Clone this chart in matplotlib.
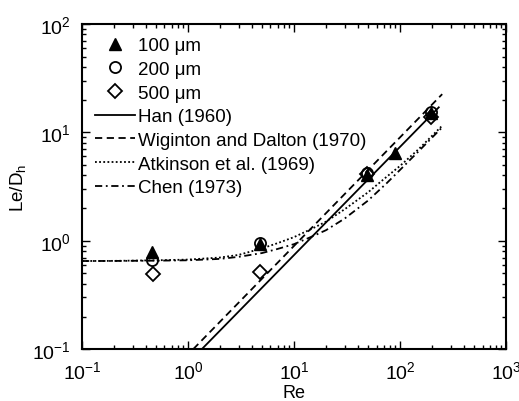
import numpy as np
import matplotlib
matplotlib.use('Agg')
import matplotlib.pyplot as plt

plt.rcParams['font.family'] = ['Liberation Sans', 'DejaVu Sans']
plt.rcParams['mathtext.fontset'] = 'custom'
plt.rcParams['mathtext.rm'] = 'Liberation Sans'
plt.rcParams['mathtext.it'] = 'Liberation Sans:italic'

# 实验点 (Re, Le/Dh)
re_100 = [0.46, 4.8, 48.5, 89, 198]
le_100 = [0.78, 0.93, 4.0, 6.4, 15.0]
re_200 = [0.46, 4.8, 48.5, 198]
le_200 = [0.67, 0.95, 4.2, 15.5]
re_500 = [0.47, 4.8, 48.5, 198]
le_500 = [0.49, 0.52, 4.1, 13.9]

# 关联式曲线
re_han = [1.35, 232]
le_han = [0.1, 17.0]
re_wd = [1.12, 250]
le_wd = [0.1, 22.5]
re_curve = [0.1, 0.2, 0.5, 1, 2, 3, 5, 7, 10, 15, 20, 30, 50, 75, 100, 150, 245]
le_atk = [0.65, 0.652, 0.66, 0.67, 0.70, 0.74, 0.85, 0.95, 1.08, 1.3, 1.5, 1.95, 2.8, 3.9, 4.9, 7.0, 11.3]
le_chen = [0.65, 0.651, 0.655, 0.66, 0.68, 0.71, 0.77, 0.84, 0.93, 1.1, 1.25, 1.6, 2.35, 3.4, 4.5, 6.7, 10.9]

fig = plt.figure(figsize=(5.19, 4.02), dpi=100)
ax = fig.add_axes([0.158, 0.129, 0.817, 0.809])

ax.plot(re_100, le_100, '^', color='k', markersize=9, label='100 μm')
ax.plot(re_200, le_200, 'o', color='k', mfc='none', markersize=8, mew=1.3, label='200 μm')
ax.plot(re_500, le_500, 'D', color='k', mfc='none', markersize=7, mew=1.3, label='500 μm')
ax.plot(re_han, le_han, '-', color='k', lw=1.3, label='Han (1960)')
ax.plot(re_wd, le_wd, color='k', lw=1.3, linestyle=(0, (4, 2.5)), label='Wiginton and Dalton (1970)')
ax.plot(re_curve, le_atk, color='k', lw=1.3, linestyle=(0, (1, 1.3)), label='Atkinson et al. (1969)')
ax.plot(re_curve, le_chen, color='k', lw=1.3, linestyle=(0, (4, 2, 1, 2)), label='Chen (1973)')

ax.set_xscale('log')
ax.set_yscale('log')
ax.set_xlim(0.1, 1000)
ax.set_ylim(0.1, 100)
ax.set_xlabel('Re', fontsize=13, labelpad=1)
ax.set_ylabel('Le/D$_\\mathrm{h}$', fontsize=13.5, labelpad=3)

ax.tick_params(which='both', direction='in', top=True, right=True, labelsize=14, width=1.0)
ax.tick_params(which='major', length=6, pad=8)
ax.tick_params(which='minor', length=3)
for s in ax.spines.values():
    s.set_linewidth(1.5)

ax.legend(loc='upper left', frameon=False, fontsize=13.5, handlelength=2.1,
          handletextpad=0.2, labelspacing=0.35, borderaxespad=0.4,
          borderpad=0.3)

fig.savefig('out.png', dpi=100)
